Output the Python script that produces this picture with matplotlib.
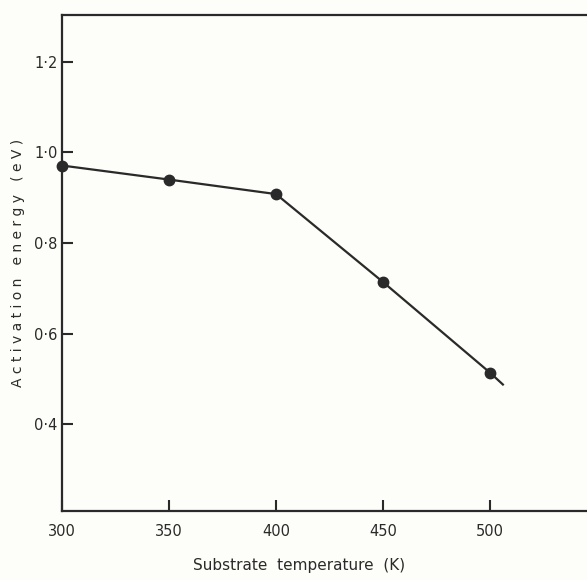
import matplotlib.pyplot as plt

# measured points
temps = [300, 350, 400, 450, 500]
energy = [0.971, 0.940, 0.908, 0.714, 0.514]

# drawn line runs a little past the last point
line_temps = [300, 350, 400, 450, 500, 506]
line_energy = [0.971, 0.940, 0.908, 0.714, 0.514, 0.488]

xticks = [300, 350, 400, 450, 500]
yticks = [0.4, 0.6, 0.8, 1.0, 1.2]
ytick_labels = ['0·4', '0·6', '0·8', '1·0', '1·2']

ink = '#2a2a2a'

fig = plt.figure(figsize=(5.87, 5.80), dpi=100, facecolor='#fdfdf9')
ax = fig.add_axes([62 / 587, 1 - 511 / 580, 1 - 62 / 587, (511 - 15) / 580])
ax.set_facecolor('#fdfdf9')

ax.plot(line_temps, line_energy, color=ink, lw=1.6, zorder=2)
ax.plot(temps, energy, 'o', color=ink, ms=7.5, zorder=3, clip_on=False)

ax.set_xlim(300, 545.3)
ax.set_ylim(0.209, 1.303)

ax.set_xticks(xticks)
ax.set_yticks(yticks)
ax.set_yticklabels(ytick_labels)
ax.tick_params(direction='in', length=8, width=1.5, color=ink, labelcolor=ink, labelsize=10.5)
ax.tick_params(axis='x', pad=9)
ax.tick_params(axis='y', pad=3)

for side in ['left', 'bottom', 'top']:
    ax.spines[side].set_linewidth(1.6)
    ax.spines[side].set_color(ink)
ax.spines['right'].set_visible(False)

ax.set_xlabel('Substrate  temperature  (K)', fontsize=11, color=ink)
ax.xaxis.set_label_coords(0.451, -0.095)
ax.set_ylabel('A c t i v a t i o n   e n e r g y   ( e V )', fontsize=10, color=ink)
ax.yaxis.set_label_coords(-0.07, 0.5)

fig.savefig('out.png', dpi=100, facecolor=fig.get_facecolor())
